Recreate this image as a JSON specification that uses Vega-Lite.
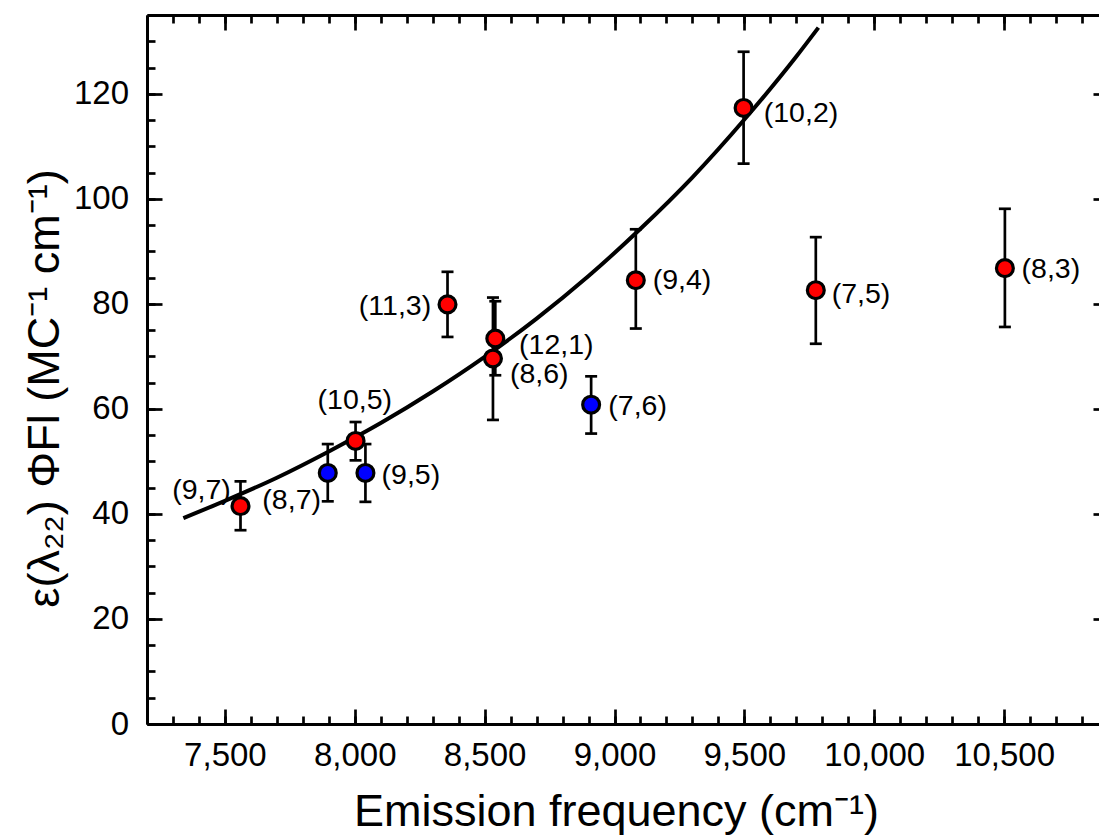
{
  "$schema": "https://vega.github.io/schema/vega-lite/v6.json",
  "width": 961,
  "height": 709,
  "autosize": {"type": "none"},
  "padding": {"left": 147, "top": 15, "right": -9, "bottom": 111},
  "background": "white",
  "config": {
    "view": {"stroke": null},
    "font": "Liberation Sans",
    "axis": {
      "grid": false,
      "domainColor": "black",
      "tickColor": "black",
      "labelColor": "black",
      "titleColor": "black",
      "domainWidth": 3,
      "tickWidth": 2.7,
      "labelFont": "Liberation Sans",
      "titleFont": "Liberation Sans",
      "titleFontWeight": "normal",
      "labelFlush": false,
      "labelOverlap": false,
      "labelBound": false
    }
  },
  "datasets": {
    "points": [
      {"tube": "(9,7)", "nu": 7560, "y": 41.5, "lo": 36.9, "hi": 46.2, "lx": 7410, "ly": 44.6, "family": "mod 2"},
      {"tube": "(8,7)", "nu": 7896, "y": 47.8, "lo": 42.4, "hi": 53.3, "lx": 7757, "ly": 42.7, "family": "mod 1"},
      {"tube": "(10,5)", "nu": 8003, "y": 53.9, "lo": 50.2, "hi": 57.5, "lx": 8000, "ly": 61.6, "family": "mod 2"},
      {"tube": "(9,5)", "nu": 8041, "y": 47.8, "lo": 42.3, "hi": 53.3, "lx": 8216, "ly": 47.4, "family": "mod 1"},
      {"tube": "(11,3)", "nu": 8357, "y": 79.9, "lo": 73.7, "hi": 86.1, "lx": 8155, "ly": 79.5, "family": "mod 2"},
      {"tube": "(12,1)", "nu": 8541, "y": 73.4, "lo": 66.4, "hi": 80.5, "lx": 8776, "ly": 72.2, "family": "mod 2"},
      {"tube": "(8,6)", "nu": 8532, "y": 69.6, "lo": 57.9, "hi": 81.2, "lx": 8710, "ly": 66.7, "family": "mod 2"},
      {"tube": "(7,6)", "nu": 8910, "y": 60.8, "lo": 55.3, "hi": 66.2, "lx": 9089, "ly": 60.5, "family": "mod 1"},
      {"tube": "(9,4)", "nu": 9082, "y": 84.5, "lo": 75.3, "hi": 94.2, "lx": 9260, "ly": 84.6, "family": "mod 2"},
      {"tube": "(10,2)", "nu": 9497, "y": 117.3, "lo": 106.7, "hi": 128.0, "lx": 9718, "ly": 116.4, "family": "mod 2"},
      {"tube": "(7,5)", "nu": 9775, "y": 82.6, "lo": 72.4, "hi": 92.7, "lx": 9949, "ly": 81.8, "family": "mod 2"},
      {"tube": "(8,3)", "nu": 10503, "y": 86.8, "lo": 75.6, "hi": 98.1, "lx": 10680, "ly": 86.7, "family": "mod 2"}
    ],
    "fit": [
      {"nu": 7340, "fit": 39.2},
      {"nu": 7500, "fit": 42.5},
      {"nu": 7700, "fit": 46.9},
      {"nu": 7900, "fit": 51.9},
      {"nu": 8100, "fit": 57.3},
      {"nu": 8300, "fit": 63.3},
      {"nu": 8500, "fit": 69.9},
      {"nu": 8700, "fit": 77.2},
      {"nu": 8900, "fit": 85.3},
      {"nu": 9100, "fit": 94.3},
      {"nu": 9300, "fit": 104.1},
      {"nu": 9500, "fit": 115.1},
      {"nu": 9700, "fit": 127.1},
      {"nu": 9785, "fit": 132.6}
    ]
  },
  "layer": [
    {
      "data": {"name": "fit"},
      "mark": {"type": "line", "color": "black", "strokeWidth": 4, "interpolate": "monotone"},
      "encoding": {
        "x": {"field": "nu", "type": "quantitative",
          "scale": {"domain": [7200, 10900], "nice": false, "zero": false},
          "axis": {"orient": "bottom", "values": [7500, 8000, 8500, 9000, 9500, 10000, 10500], "format": ",d",
            "tickSize": -15, "labelFontSize": 33, "labelPadding": 30, "domain": true,
            "title": "Emission frequency (cm⁻¹)", "titleFontSize": 45, "titleBaseline": "alphabetic",
            "titleAlign": "center", "titleX": 469, "titleY": 101}},
        "y": {"field": "fit", "type": "quantitative",
          "scale": {"domain": [0, 135], "nice": false, "zero": false},
          "axis": {"orient": "left", "values": [0, 20, 40, 60, 80, 100, 120], "format": "d",
            "tickSize": -15, "labelFontSize": 33, "labelPadding": 33.5, "domain": true,
            "title": "ε(λ₂₂)  ΦFl  (MC⁻¹ cm⁻¹)", "titleFontSize": 45, "titleBaseline": "alphabetic",
            "titleAlign": "center", "titleAngle": -90, "titleX": -89, "titleY": 373}}
      }
    },
    {
      "data": {"name": "points"},
      "mark": {"type": "rule", "color": "black", "strokeWidth": 2.7},
      "encoding": {
        "x": {"field": "nu", "type": "quantitative",
          "scale": {"domain": [7200, 10900], "nice": false, "zero": false},
          "axis": {"orient": "bottom", "values": [7200,7300,7400,7500,7600,7700,7800,7900,8000,8100,8200,8300,8400,8500,8600,8700,8800,8900,9000,9100,9200,9300,9400,9500,9600,9700,9800,9900,10000,10100,10200,10300,10400,10500,10600,10700,10800,10900],
            "tickSize": -8, "labels": false, "domain": false, "title": null}},
        "y": {"field": "lo", "type": "quantitative",
          "scale": {"domain": [0, 135], "nice": false, "zero": false},
          "axis": {"orient": "left", "values": [0,5,10,15,20,25,30,35,40,45,50,55,60,65,70,75,80,85,90,95,100,105,110,115,120,125,130,135],
            "tickSize": -8, "labels": false, "domain": false, "title": null}},
        "y2": {"field": "hi"}
      }
    },
    {
      "data": {"name": "points"},
      "mark": {"type": "tick", "orient": "horizontal", "size": 12, "thickness": 2.7, "color": "black", "opacity": 1},
      "encoding": {
        "x": {"field": "nu", "type": "quantitative",
          "scale": {"domain": [7200, 10900], "nice": false, "zero": false},
          "axis": {"orient": "top", "values": [7500, 8000, 8500, 9000, 9500, 10000, 10500],
            "tickSize": -15, "labels": false, "domain": true, "title": null}},
        "y": {"field": "lo", "type": "quantitative",
          "scale": {"domain": [0, 135], "nice": false, "zero": false},
          "axis": {"orient": "right", "values": [0, 20, 40, 60, 80, 100, 120],
            "tickSize": -15, "labels": false, "domain": true, "title": null}}
      }
    },
    {
      "data": {"name": "points"},
      "mark": {"type": "tick", "orient": "horizontal", "size": 12, "thickness": 2.7, "color": "black", "opacity": 1},
      "encoding": {
        "x": {"field": "nu", "type": "quantitative",
          "scale": {"domain": [7200, 10900], "nice": false, "zero": false},
          "axis": {"orient": "top", "values": [7200,7300,7400,7500,7600,7700,7800,7900,8000,8100,8200,8300,8400,8500,8600,8700,8800,8900,9000,9100,9200,9300,9400,9500,9600,9700,9800,9900,10000,10100,10200,10300,10400,10500,10600,10700,10800,10900],
            "tickSize": -8, "labels": false, "domain": false, "title": null}},
        "y": {"field": "hi", "type": "quantitative",
          "scale": {"domain": [0, 135], "nice": false, "zero": false},
          "axis": {"orient": "right", "values": [0,5,10,15,20,25,30,35,40,45,50,55,60,65,70,75,80,85,90,95,100,105,110,115,120,125,130,135],
            "tickSize": -8, "labels": false, "domain": false, "title": null}}
      }
    },
    {
      "data": {"name": "points"},
      "mark": {"type": "point", "shape": "circle", "filled": true, "size": 285, "stroke": "black", "strokeWidth": 3.2, "opacity": 1},
      "encoding": {
        "x": {"field": "nu", "type": "quantitative", "scale": {"domain": [7200, 10900], "nice": false, "zero": false}, "axis": null},
        "y": {"field": "y", "type": "quantitative", "scale": {"domain": [0, 135], "nice": false, "zero": false}, "axis": null},
        "fill": {"field": "family", "type": "nominal", "scale": {"domain": ["mod 2", "mod 1"], "range": ["#FF0000", "#0000FF"]}, "legend": null}
      }
    },
    {
      "data": {"name": "points"},
      "mark": {"type": "text", "fontSize": 28.5, "font": "Liberation Sans", "align": "center", "baseline": "middle", "color": "black"},
      "encoding": {
        "x": {"field": "lx", "type": "quantitative", "scale": {"domain": [7200, 10900], "nice": false, "zero": false}, "axis": null},
        "y": {"field": "ly", "type": "quantitative", "scale": {"domain": [0, 135], "nice": false, "zero": false}, "axis": null},
        "text": {"field": "tube", "type": "nominal"}
      }
    }
  ],
  "resolve": {"axis": {"x": "independent", "y": "independent"}}
}
